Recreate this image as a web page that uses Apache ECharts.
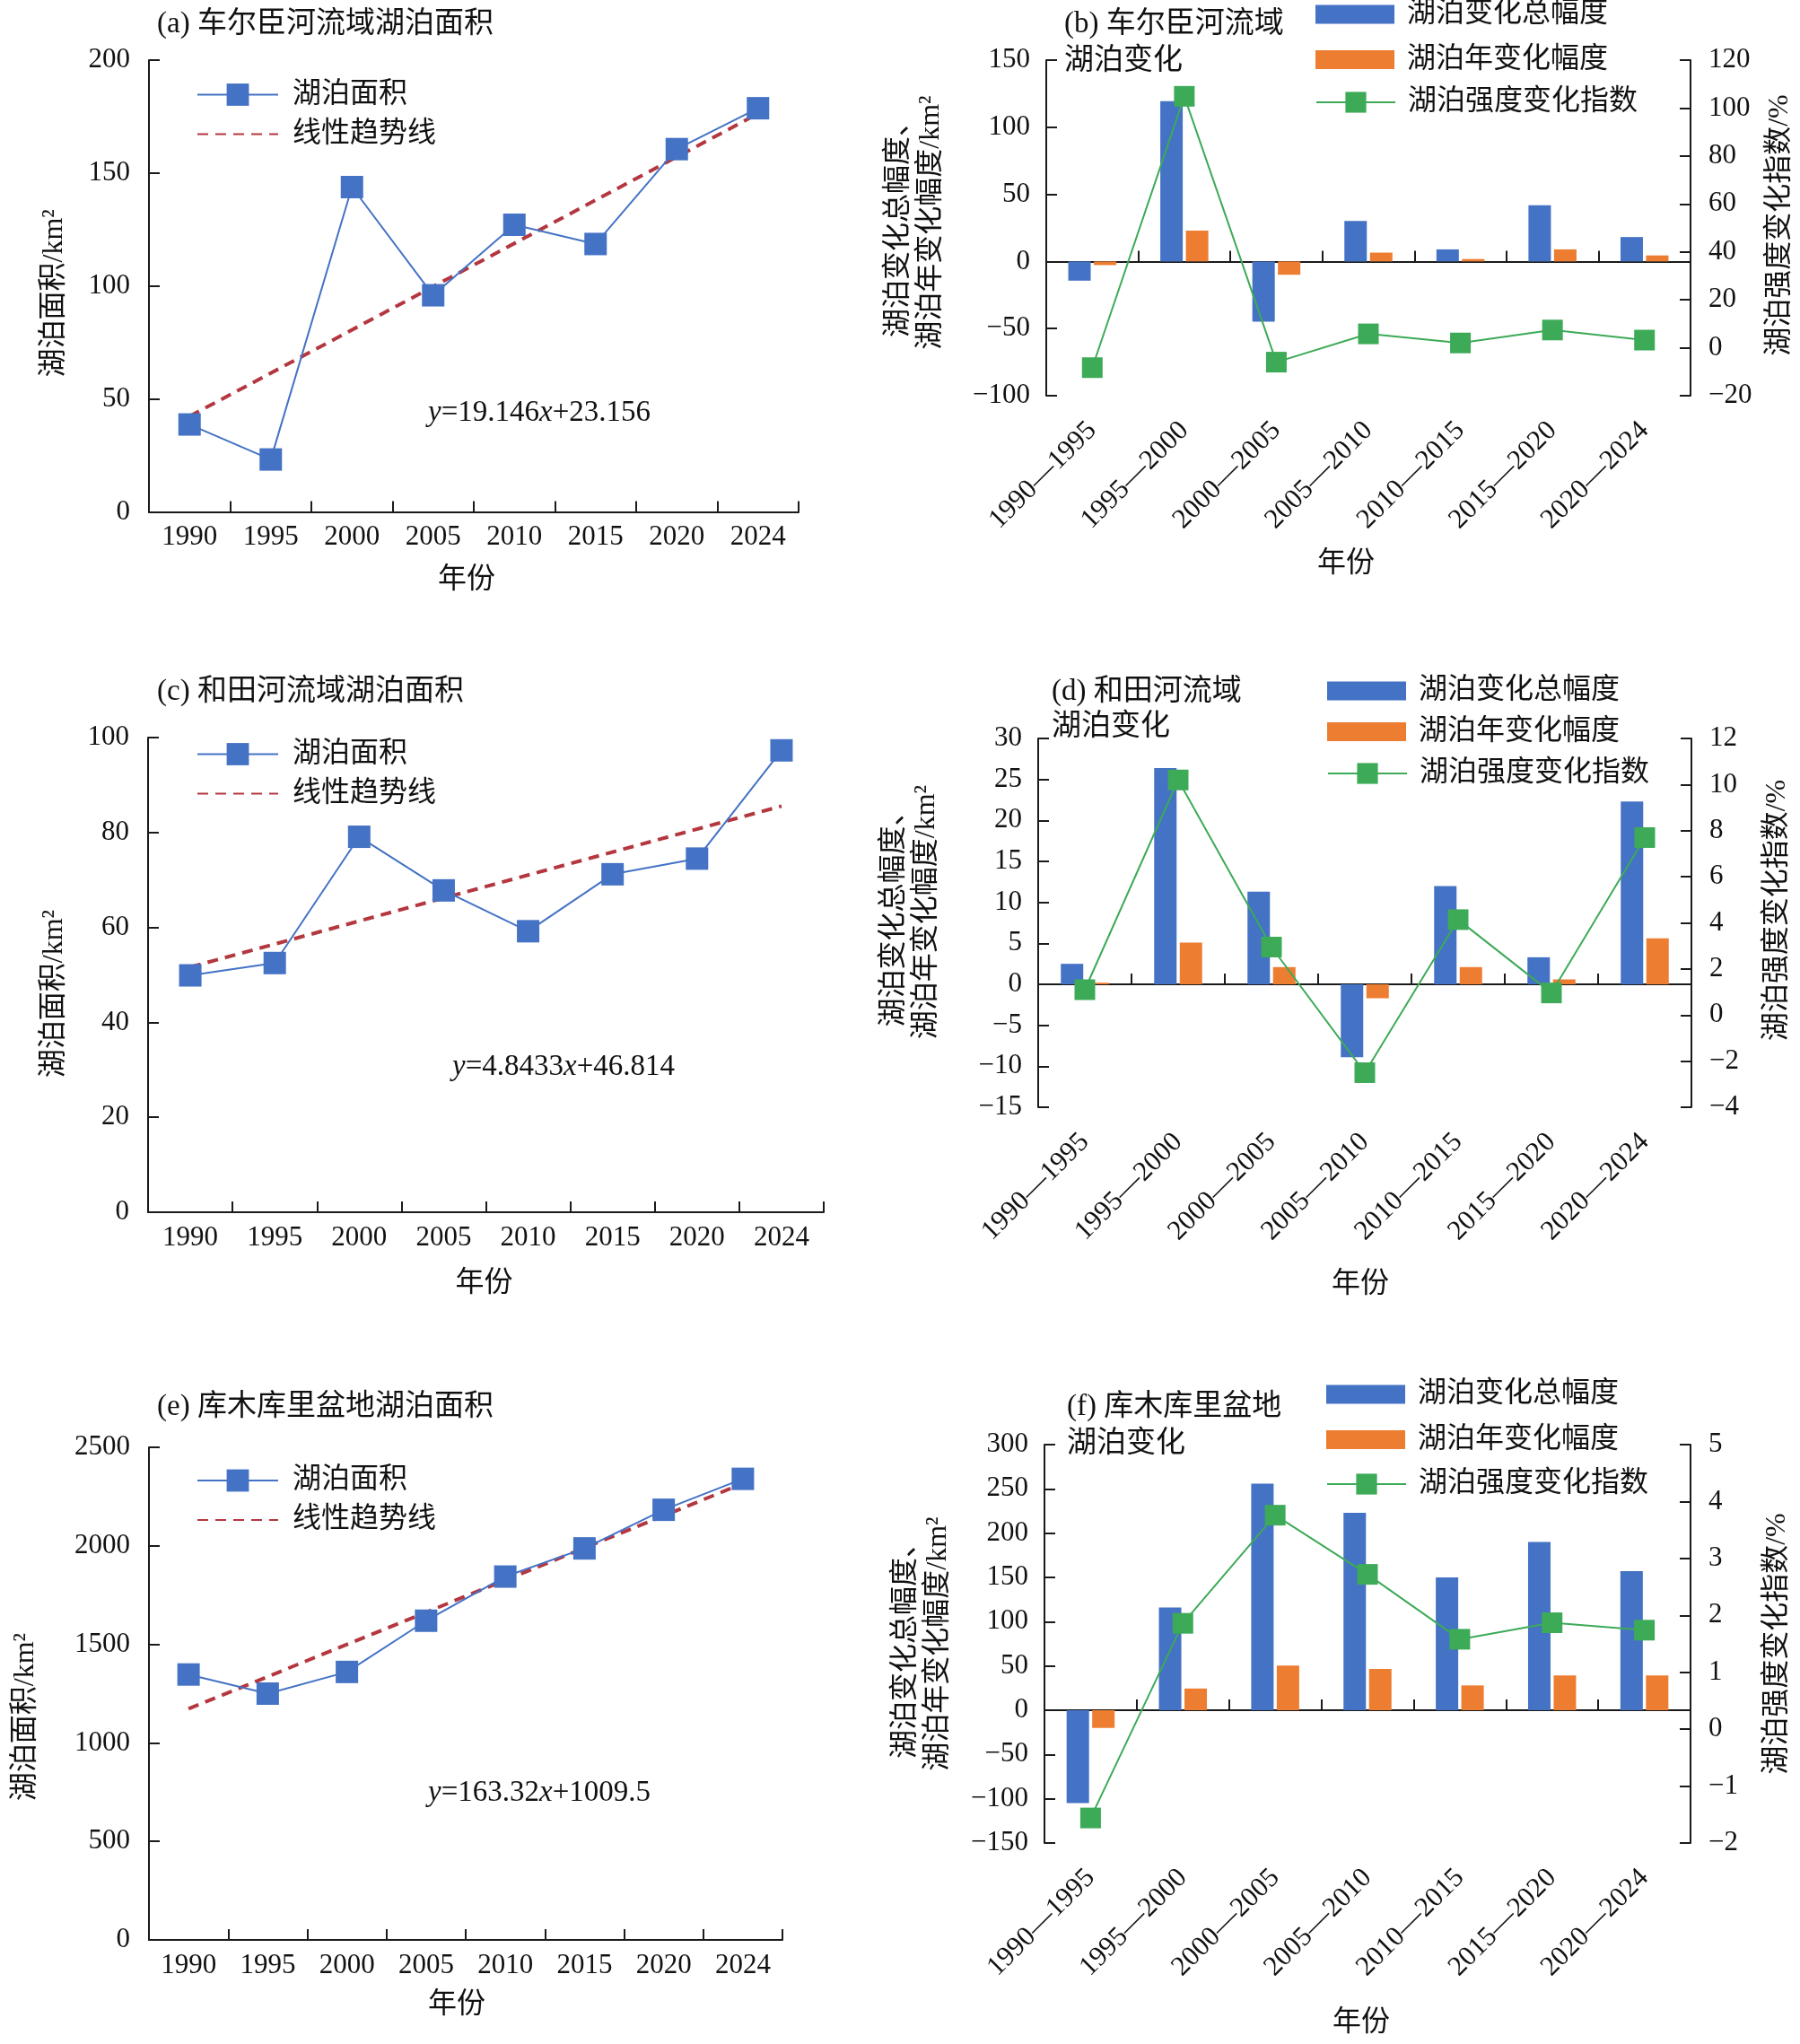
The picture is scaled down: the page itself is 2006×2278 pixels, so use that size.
<!DOCTYPE html>
<html>
<head>
<meta charset="utf-8">
<script src="https://cdn.jsdelivr.net/npm/echarts@6/dist/echarts.min.js"></script>
<style>
html,body{margin:0;padding:0;background:#fff;}
#chart{width:2006px;height:2278px;}
</style>
</head>
<body>
<div id="chart"></div>
<script>
// ---------------- data ----------------
const years = ['1990','1995','2000','2005','2010','2015','2020','2024'];
const periods = ['1990—1995','1995—2000','2000—2005','2005—2010','2010—2015','2015—2020','2020—2024'];

// (a) 车尔臣河流域
const areaA = [38.7, 23.2, 143.8, 95.9, 127.1, 118.6, 160.6, 178.7];
const trendA = [42.3, 176.3];
const eqA = ['19.146', '23.156'];
// (b)
const totalB = [-14.3, 119.5, -44.8, 30.2, 9, 41.8, 18.2];
const annualB = [-2.7, 23, -9.9, 6.6, 1.8, 9, 4.5];
const indexB = [-8.3, 104.9, -6, 5.8, 2, 7.4, 3.2];

// (c) 和田河流域
const areaC = [49.9, 52.5, 79.1, 67.8, 59.2, 71.2, 74.5, 97.3];
const trendC = [51.66, 85.56];
const eqC = ['4.8433', '46.814'];
// (d)
const totalD = [2.5, 26.4, 11.3, -8.9, 12, 3.3, 22.3];
const annualD = [0.2, 5.1, 2.1, -1.7, 2.1, 0.6, 5.6];
const indexD = [1.1, 10.2, 2.95, -2.5, 4.14, 0.96, 7.7];

// (e) 库木库里盆地
const areaE = [1347, 1250, 1360, 1620, 1844, 1987, 2183, 2340];
const trendE = [1172.8, 2316.1];
const eqE = ['163.32', '1009.5'];
// (f)
const totalF = [-105, 116, 256, 223, 150, 190, 157];
const annualF = [-20, 24.5, 50.5, 46.6, 28, 39.2, 39.2];
const indexF = [-1.56, 1.86, 3.76, 2.72, 1.58, 1.87, 1.74];

// ---------------- styles ----------------
const FONT = "'Liberation Serif', 'Noto Sans CJK SC', serif";
const C_BLUE = '#4472C4', C_ORANGE = '#ED7D31', C_GREEN = '#3DAA58', C_RED = '#B4373F';
const AX = '#1a1a1a', TXT = '#111';
const FS_TICK = 31, FS_NAME = 32, FS_LEG = 32, FS_TITLE = 33, FS_EQ = 33;

const option = {
  backgroundColor: '#fff',
  animation: false,
  textStyle: { fontFamily: FONT, color: TXT },
  title: [], grid: [], xAxis: [], yAxis: [], series: [], legend: [], graphic: []
};

const plain = v => String(v).replace('-', '\u2212');

function axisLineStyle() { return { show: true, onZero: false, lineStyle: { color: AX, width: 2 } }; }
function tickStyle() { return { show: true, inside: true, length: 12, lineStyle: { color: AX, width: 2 } }; }

function addTitle(text, left, top, lh) {
  option.title.push({
    text: text, left: left, top: top, padding: 0,
    textStyle: { fontFamily: FONT, fontSize: FS_TITLE, fontWeight: 'normal', color: TXT, lineHeight: lh }
  });
}

function linePanel(p) {
  const gi = option.grid.length;
  option.grid.push({ left: p.grid[0], top: p.grid[1], width: p.grid[2], height: p.grid[3], outerBoundsMode: 'none' });
  const xi = option.xAxis.length, yi = option.yAxis.length;
  option.xAxis.push({
    gridIndex: gi, type: 'category', data: years, boundaryGap: true,
    axisLine: axisLineStyle(), axisTick: tickStyle(),
    axisLabel: { interval: 0, fontSize: FS_TICK, color: TXT, fontFamily: FONT, margin: 13 },
    splitLine: { show: false },
    name: '年份', nameLocation: 'middle', nameGap: p.xNameGap, nameMoveOverlap: false,
    nameTextStyle: { fontSize: FS_NAME, color: TXT, fontFamily: FONT, padding: [0, p.xNamePad, 0, 0] }
  });
  option.yAxis.push({
    gridIndex: gi, type: 'value', min: 0, max: p.ymax, interval: p.interval,
    axisLine: axisLineStyle(), axisTick: tickStyle(), splitLine: { show: false },
    axisLabel: { fontSize: FS_TICK, color: TXT, fontFamily: FONT, margin: 21, formatter: plain },
    name: '湖泊面积/km²', nameLocation: 'middle', nameRotate: 90, nameGap: p.yNameGap, nameMoveOverlap: false,
    nameTextStyle: { fontSize: FS_NAME, color: TXT, fontFamily: FONT, padding: [0, p.yNamePad, 0, 0] }
  });
  option.series.push({
    type: 'line', name: '湖泊面积', xAxisIndex: xi, yAxisIndex: yi, data: p.values,
    symbol: 'rect', symbolSize: 25, lineStyle: { color: C_BLUE, width: 2 }, itemStyle: { color: C_BLUE }, z: 3
  });
  option.series.push({
    type: 'line', name: '线性趋势线', xAxisIndex: xi, yAxisIndex: yi,
    data: [[years[0], p.trend[0]], [years[years.length - 1], p.trend[1]]],
    symbol: 'none', lineStyle: { color: C_RED, width: 4, type: [12, 8] }, itemStyle: { color: C_RED }, z: 2
  });
  option.legend.push({
    left: p.legend[0], top: p.legend[1], orient: 'vertical', padding: 0,
    itemWidth: 90, itemHeight: 31, itemGap: 12, selectedMode: false,
    data: ['湖泊面积', { name: '线性趋势线', itemStyle: { opacity: 0 } }],
    textStyle: { fontSize: FS_LEG, color: TXT, fontFamily: FONT, padding: [0, 0, 0, 11] }
  });
  option.graphic.push({
    type: 'text', left: p.eq[0], top: p.eq[1],
    style: {
      text: '{i|y}=' + p.eqv[0] + '{i|x}+' + p.eqv[1],
      fontFamily: FONT, fontSize: FS_EQ, fill: TXT,
      rich: { i: { fontStyle: 'italic', fontFamily: FONT, fontSize: FS_EQ } }
    }
  });
}

function barPanel(p) {
  const gi = option.grid.length;
  option.grid.push({ left: p.grid[0], top: p.grid[1], width: p.grid[2], height: p.grid[3], outerBoundsMode: 'none' });
  const xi = option.xAxis.length, yi = option.yAxis.length;
  option.xAxis.push({
    gridIndex: gi, type: 'category', data: periods, boundaryGap: true, position: 'bottom',
    axisLine: { show: true, onZero: true, lineStyle: { color: AX, width: 2 } },
    axisTick: tickStyle(), axisLabel: { show: false }, splitLine: { show: false }
  });
  option.xAxis.push({
    gridIndex: gi, type: 'category', data: periods, boundaryGap: true, position: 'bottom',
    axisLine: { show: false, onZero: false }, axisTick: { show: false }, splitLine: { show: false },
    axisLabel: { interval: 0, rotate: 45, fontSize: FS_TICK, color: TXT, fontFamily: FONT, margin: 34 },
    name: '年份', nameLocation: 'middle', nameGap: p.xNameGap, nameMoveOverlap: false,
    nameTextStyle: { fontSize: FS_NAME, color: TXT, fontFamily: FONT, padding: [0, p.xNamePad, 0, 0] }
  });
  option.yAxis.push({
    gridIndex: gi, type: 'value', position: 'left', min: p.left[0], max: p.left[1], interval: p.left[2],
    axisLine: axisLineStyle(), axisTick: tickStyle(), splitLine: { show: false },
    axisLabel: { fontSize: FS_TICK, color: TXT, fontFamily: FONT, margin: 18, formatter: plain },
    name: '湖泊变化总幅度、\n湖泊年变化幅度/km²', nameLocation: 'middle', nameRotate: 90,
    nameGap: p.lNameGap, nameMoveOverlap: false,
    nameTextStyle: { fontSize: FS_NAME, color: TXT, fontFamily: FONT, lineHeight: 36, padding: [0, 0, 0, p.namePad[0]] }
  });
  option.yAxis.push({
    gridIndex: gi, type: 'value', position: 'right', min: p.right[0], max: p.right[1], interval: p.right[2],
    axisLine: axisLineStyle(), axisTick: tickStyle(), splitLine: { show: false },
    axisLabel: { fontSize: FS_TICK, color: TXT, fontFamily: FONT, margin: 20, formatter: plain },
    name: '湖泊强度变化指数/%', nameLocation: 'middle', nameRotate: 90,
    nameGap: p.rNameGap, nameMoveOverlap: false,
    nameTextStyle: { fontSize: FS_NAME, color: TXT, fontFamily: FONT, padding: [0, 0, 0, p.namePad[1]] }
  });
  option.series.push({
    type: 'bar', name: '湖泊变化总幅度', xAxisIndex: xi, yAxisIndex: yi, data: p.total,
    barWidth: 25, barGap: '14%', itemStyle: { color: C_BLUE }, z: 2
  });
  option.series.push({
    type: 'bar', name: '湖泊年变化幅度', xAxisIndex: xi, yAxisIndex: yi, data: p.annual,
    barWidth: 25, barGap: '14%', itemStyle: { color: C_ORANGE }, z: 2
  });
  option.series.push({
    type: 'line', name: '湖泊强度变化指数', xAxisIndex: xi, yAxisIndex: yi + 1, data: p.index,
    symbol: 'rect', symbolSize: 23, lineStyle: { color: C_GREEN, width: 2 }, itemStyle: { color: C_GREEN }, z: 4
  });
  option.legend.push({
    left: p.legBar[0], top: p.legBar[1], orient: 'vertical', padding: 0,
    itemWidth: 88, itemHeight: 21, itemGap: p.legBar[2], selectedMode: false, icon: 'rect',
    data: ['湖泊变化总幅度', '湖泊年变化幅度'],
    textStyle: { fontSize: FS_LEG, lineHeight: 32, color: TXT, fontFamily: FONT, padding: [0, 0, 0, 9] }
  });
  option.legend.push({
    left: p.legLine[0], top: p.legLine[1], orient: 'vertical', padding: 0,
    itemWidth: 88, itemHeight: 29, selectedMode: false,
    data: ['湖泊强度变化指数'],
    textStyle: { fontSize: FS_LEG, lineHeight: 32, color: TXT, fontFamily: FONT, padding: [0, 0, 0, 9] }
  });
}

// ---------------- panels ----------------
addTitle('(a) 车尔臣河流域湖泊面积', 175, 7, 40);
linePanel({ grid: [166, 67, 724, 503.5], values: areaA, trend: trendA, ymax: 200, interval: 50,
  xNameGap: 60, xNamePad: 16, yNameGap: 89, yNamePad: 16, legend: [219, 89.5], eq: [477, 444], eqv: eqA });

addTitle('(b) 车尔臣河流域\n湖泊变化', 1186, 7, 41);
barPanel({ grid: [1166, 67, 718, 374], total: totalB, annual: annualB, index: indexB,
  left: [-100, 150, 50], right: [-20, 120, 20], xNameGap: 172, xNamePad: 50,
  lNameGap: 110, rNameGap: 84, namePad: [12, 6], legBar: [1466, 0, 18.4], legLine: [1466, 98] });

addTitle('(c) 和田河流域湖泊面积', 175, 751.5, 40);
linePanel({ grid: [165, 822, 753, 529], values: areaC, trend: trendC, ymax: 100, interval: 20,
  xNameGap: 64, xNamePad: 4, yNameGap: 88, yNamePad: 42, legend: [219, 824.5], eq: [504, 1173], eqv: eqC });

addTitle('(d) 和田河流域\n湖泊变化', 1172, 752, 39);
barPanel({ grid: [1157, 823, 728, 411], total: totalD, annual: annualD, index: indexD,
  left: [-15, 30, 5], right: [-4, 12, 2], xNameGap: 182, xNamePad: 10,
  lNameGap: 106, rNameGap: 80, namePad: [24, 28], legBar: [1479, 754, 13.5], legLine: [1479, 846] });

addTitle('(e) 库木库里盆地湖泊面积', 175, 1548, 40);
linePanel({ grid: [166, 1613, 706, 549], values: areaE, trend: trendE, ymax: 2500, interval: 500,
  xNameGap: 57, xNamePad: 20, yNameGap: 121, yNamePad: 52, legend: [219, 1634], eq: [477, 1982], eqv: eqE });

addTitle('(f) 库木库里盆地\n湖泊变化', 1189, 1547.5, 41);
barPanel({ grid: [1164, 1610, 720, 444], total: totalF, annual: annualF, index: indexF,
  left: [-150, 300, 50], right: [-2, 5, 1], xNameGap: 185, xNamePad: 14,
  lNameGap: 100, rNameGap: 81, namePad: [0, 0], legBar: [1478, 1538, 18.5], legLine: [1478, 1638] });

const chart = echarts.init(document.getElementById('chart'), null, { renderer: 'canvas' });
chart.setOption(option);
</script>
</body>
</html>
